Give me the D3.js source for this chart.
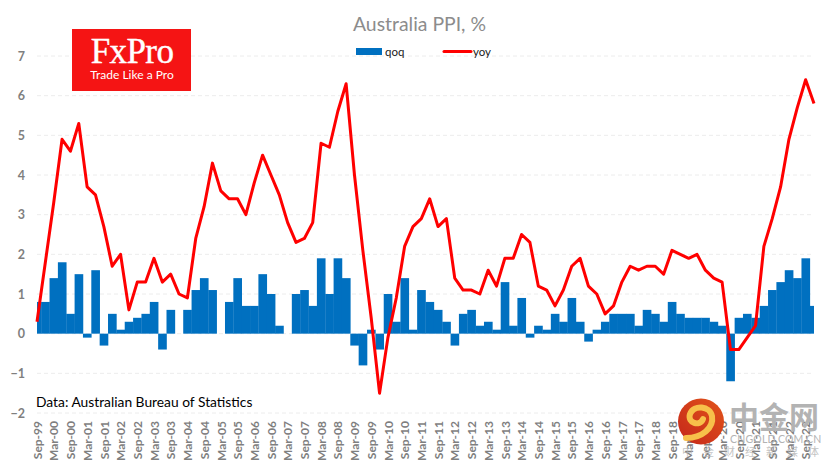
<!DOCTYPE html>
<html>
<head>
<meta charset="utf-8">
<script src="https://cdnjs.cloudflare.com/ajax/libs/d3/7.8.5/d3.min.js"></script>
<style>
  html, body { margin: 0; padding: 0; background: #fff; }
  svg { display: block; font-family: Lato, sans-serif; }
</style>
</head>
<body>
<div id="chart"></div>
<script>
const quarters = [
  "Sep-99","Dec-99",
  "Mar-00","Jun-00","Sep-00","Dec-00","Mar-01","Jun-01","Sep-01","Dec-01",
  "Mar-02","Jun-02","Sep-02","Dec-02","Mar-03","Jun-03","Sep-03","Dec-03",
  "Mar-04","Jun-04","Sep-04","Dec-04","Mar-05","Jun-05","Sep-05","Dec-05",
  "Mar-06","Jun-06","Sep-06","Dec-06","Mar-07","Jun-07","Sep-07","Dec-07",
  "Mar-08","Jun-08","Sep-08","Dec-08","Mar-09","Jun-09","Sep-09","Dec-09",
  "Mar-10","Jun-10","Sep-10","Dec-10","Mar-11","Jun-11","Sep-11","Dec-11",
  "Mar-12","Jun-12","Sep-12","Dec-12","Mar-13","Jun-13","Sep-13","Dec-13",
  "Mar-14","Jun-14","Sep-14","Dec-14","Mar-15","Jun-15","Sep-15","Dec-15",
  "Mar-16","Jun-16","Sep-16","Dec-16","Mar-17","Jun-17","Sep-17","Dec-17",
  "Mar-18","Jun-18","Sep-18","Dec-18","Mar-19","Jun-19","Sep-19","Dec-19",
  "Mar-20","Jun-20","Sep-20","Dec-20","Mar-21","Jun-21","Sep-21","Dec-21",
  "Mar-22","Jun-22","Sep-22","Dec-22"
];

const qoq = [
  0.8,0.8,1.4,1.8,0.5,1.5,-0.1,1.6,-0.3,0.5,
  0.1,0.3,0.4,0.5,0.8,-0.4,0.6,0,0.6,1.1,
  1.4,1.1,0,0.8,1.4,0.7,0.7,1.5,1.0,0.2,
  0,1.0,1.1,0.7,1.9,1.0,1.9,1.4,-0.3,-0.8,
  0.1,-0.4,1.0,0.3,1.4,0.1,1.1,0.8,0.6,0.3,
  -0.3,0.5,0.6,0.2,0.3,0.1,1.3,0.2,0.9,-0.1,
  0.2,0.1,0.5,0.3,0.9,0.3,-0.2,0.1,0.3,0.5,
  0.5,0.5,0.2,0.6,0.5,0.3,0.8,0.5,0.4,0.4,
  0.4,0.3,0.2,-1.2,0.4,0.5,0.4,0.7,1.1,1.3,
  1.6,1.4,1.9,0.7
];

const yoy = [
  0.3,1.8,3.3,4.9,4.6,5.3,3.7,3.5,2.7,1.7,
  2.0,0.6,1.3,1.3,1.9,1.3,1.5,1.0,0.9,2.4,
  3.2,4.3,3.6,3.4,3.4,3.0,3.8,4.5,4.0,3.5,
  2.8,2.3,2.4,2.8,4.8,4.7,5.6,6.3,4.0,2.1,
  0.4,-1.5,-0.1,0.9,2.2,2.7,2.9,3.4,2.7,2.9,
  1.4,1.1,1.1,1.0,1.6,1.2,1.9,1.9,2.5,2.3,
  1.2,1.1,0.7,1.1,1.7,1.9,1.2,1.0,0.5,0.7,
  1.3,1.7,1.6,1.7,1.7,1.5,2.1,2.0,1.9,2.0,
  1.6,1.4,1.3,-0.4,-0.4,-0.1,0.2,2.2,2.9,3.7,
  4.9,5.7,6.4,5.8
];

const yTicks = [-2,-1,0,1,2,3,4,5,6,7];

const plotLeft = 37, plotRight = 814, plotTop = 56, plotBottom = 413;

const svg = d3.select("#chart")
  .append("svg")
  .attr("width", 835)
  .attr("height", 470);

// Scales
const xScale = d3.scalePoint()
  .domain(quarters)
  .range([plotLeft, plotRight]);

const yScale = d3.scaleLinear()
  .domain([-2, 7])
  .range([plotBottom, plotTop]);

const barWidth = xScale.step();

const defs = svg.append("defs");
defs.append("clipPath")
  .attr("id", "plot-clip")
  .append("rect")
  .attr("x", plotLeft)
  .attr("y", 0)
  .attr("width", plotRight - plotLeft)
  .attr("height", 470);

const wmFill = defs.append("linearGradient")
  .attr("id", "wm-fill")
  .attr("x1", 0).attr("y1", 1).attr("x2", 1).attr("y2", 0);
wmFill.append("stop").attr("offset", "0%").attr("stop-color", "#c4261a");
wmFill.append("stop").attr("offset", "100%").attr("stop-color", "#e2541a");

// Title
svg.append("text")
  .attr("x", 419.5)
  .attr("y", 31)
  .attr("text-anchor", "middle")
  .attr("font-size", 19.4)
  .attr("fill", "#8c8c8c")
  .text("Australia PPI, %");

// Gridlines
svg.append("g")
  .selectAll("line")
  .data(yTicks)
  .enter()
  .append("line")
  .attr("x1", plotLeft)
  .attr("x2", plotRight - 2)
  .attr("y1", d => yScale(d))
  .attr("y2", d => yScale(d))
  .attr("stroke", "#ececec")
  .attr("stroke-width", 1)
  .attr("stroke-dasharray", "4 3");

// Y axis
const yAxis = svg.append("g")
  .attr("transform", `translate(${plotLeft}, 0)`)
  .call(d3.axisLeft(yScale).tickValues(yTicks).tickSize(0).tickPadding(12).tickFormat(d3.format("d")));
yAxis.select(".domain").remove();
yAxis.selectAll("text")
  .attr("font-family", "Lato, sans-serif")
  .attr("font-size", 12.5)
  .attr("font-weight", 700)
  .attr("fill", "#7f7f7f");

// Bars
svg.append("g")
  .attr("clip-path", "url(#plot-clip)")
  .selectAll("rect")
  .data(qoq)
  .enter()
  .append("rect")
  .attr("x", (d, i) => xScale(quarters[i]) - barWidth / 2)
  .attr("y", d => yScale(Math.max(d, 0)))
  .attr("width", barWidth + 0.3)
  .attr("height", d => Math.abs(yScale(d) - yScale(0)))
  .attr("fill", "#0070c0");

// X axis
const xAxis = svg.append("g")
  .attr("transform", `translate(0, ${plotBottom})`)
  .call(d3.axisBottom(xScale)
    .tickValues(quarters.filter((q, i) => i % 2 === 0))
    .tickSize(0));
xAxis.select(".domain").remove();
xAxis.selectAll("text")
  .attr("font-family", "Lato, sans-serif")
  .attr("font-size", 12)
  .attr("font-weight", 700)
  .attr("fill", "#7f7f7f")
  .attr("text-anchor", "end")
  .attr("transform", "rotate(-90)")
  .attr("x", -8)
  .attr("y", 0)
  .attr("dy", "0.35em");

// Line
const line = d3.line()
  .x((d, i) => xScale(quarters[i]))
  .y(d => yScale(d));

svg.append("path")
  .datum(yoy)
  .attr("d", line)
  .attr("fill", "none")
  .attr("stroke", "#ff0000")
  .attr("stroke-width", 3)
  .attr("stroke-linejoin", "round");

// Legend
svg.append("rect")
  .attr("x", 356).attr("y", 48)
  .attr("width", 26).attr("height", 7)
  .attr("fill", "#0070c0");
svg.append("text")
  .attr("x", 385).attr("y", 56)
  .attr("font-size", 11.5)
  .attr("fill", "#1a1a1a")
  .text("qoq");
svg.append("line")
  .attr("x1", 444).attr("x2", 471)
  .attr("y1", 51.5).attr("y2", 51.5)
  .attr("stroke", "#ff0000")
  .attr("stroke-width", 3)
  .attr("stroke-linecap", "round");
svg.append("text")
  .attr("x", 473).attr("y", 56)
  .attr("font-size", 11.5)
  .attr("fill", "#1a1a1a")
  .text("yoy");

// Source note
svg.append("text")
  .attr("x", 36).attr("y", 407)
  .attr("font-size", 13.8)
  .attr("fill", "#000")
  .text("Data: Australian Bureau of Statistics");

// FxPro badge
svg.append("rect")
  .attr("x", 72).attr("y", 29)
  .attr("width", 119).attr("height", 62)
  .attr("fill", "#f51414");
svg.append("text")
  .attr("x", 132).attr("y", 63)
  .attr("text-anchor", "middle")
  .attr("font-family", "'Liberation Serif', serif")
  .attr("font-size", 35)
  .attr("letter-spacing", -0.6)
  .attr("stroke", "#fff")
  .attr("stroke-width", 0.4)
  .attr("fill", "#fff")
  .text("FxPro");
svg.append("text")
  .attr("x", 132).attr("y", 79)
  .attr("text-anchor", "middle")
  .attr("font-size", 12)
  .attr("fill", "#fff")
  .text("Trade Like a Pro");

// Watermark
const wm = svg.append("g");
wm.append("circle")
  .attr("cx", 701).attr("cy", 421.5)
  .attr("r", 23)
  .attr("fill", "url(#wm-fill)");
wm.append("path")
  .attr("d", "M686 438 C702 438 714 428 712 416 C710 406 694 404 690 414 C687 423 700 427 703 419")
  .attr("fill", "none")
  .attr("stroke", "#f7c04a")
  .attr("stroke-width", 6)
  .attr("stroke-linecap", "round");
wm.append("text")
  .attr("x", 729).attr("y", 428)
  .attr("font-family", "'Noto Sans CJK SC', sans-serif")
  .attr("font-weight", 700)
  .attr("font-size", 30)
  .attr("fill", "#b3b3b3")
  .text("中金网");
wm.append("text")
  .attr("x", 730).attr("y", 443)
  .attr("font-size", 10.5)
  .attr("letter-spacing", 0.2)
  .attr("fill", "#b3b3b3")
  .text("CNGOLD.COM.CN");
wm.append("text")
  .attr("x", 682).attr("y", 456)
  .attr("font-family", "'Noto Sans CJK SC', sans-serif")
  .attr("font-size", 11)
  .attr("letter-spacing", 10)
  .attr("fill", "#b3b3b3")
  .attr("fill-opacity", 0.8)
  .text("中金财经新媒体");
</script>
</body>
</html>
